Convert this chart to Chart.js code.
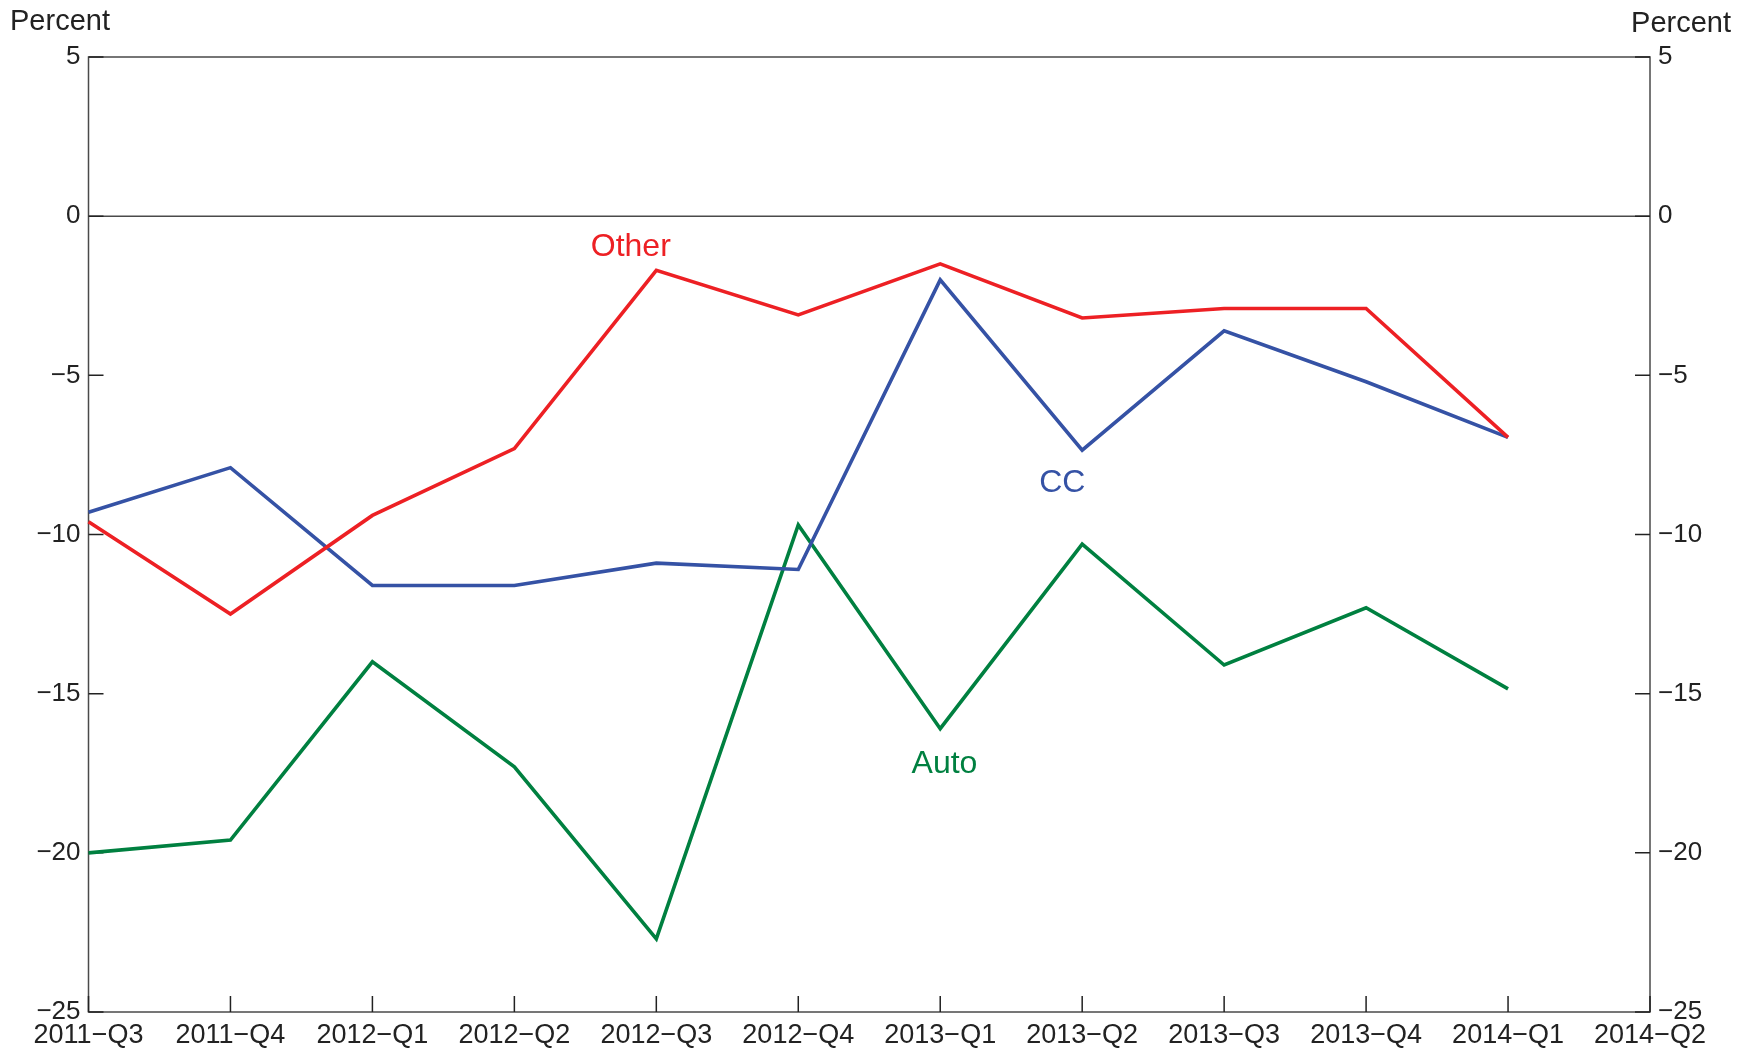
<!DOCTYPE html>
<html>
<head>
<meta charset="utf-8">
<script src="https://cdn.jsdelivr.net/npm/chart.js@4.4.1/dist/chart.umd.min.js"></script>
<style>
  html, body { margin: 0; padding: 0; background: #fff; }
  #wrap { width: 1752px; height: 1052px; }
</style>
</head>
<body>
<div id="wrap"><canvas id="chart" width="1752" height="1052"></canvas></div>
<script>
const quarters = ["2011\u2212Q3", "2011\u2212Q4", "2012\u2212Q1", "2012\u2212Q2", "2012\u2212Q3", "2012\u2212Q4",
    "2013\u2212Q1", "2013\u2212Q2", "2013\u2212Q3", "2013\u2212Q4", "2014\u2212Q1", "2014\u2212Q2"];
const otherVals = [-9.6, -12.5, -9.4, -7.3, -1.7, -3.1, -1.5, -3.2, -2.9, -2.9, -6.95];
const ccVals = [-9.3, -7.9, -11.6, -11.6, -10.9, -11.1, -2.0, -7.35, -3.6, -5.2, -6.95];
const autoVals = [-20.0, -19.6, -14.0, -17.3, -22.7, -9.7, -16.1, -10.3, -14.1, -12.3, -14.85];
const yTickVals = [5, 0, -5, -10, -15, -20, -25];

const RED = "#ed2024";
const BLUE = "#3552a5";
const GREEN = "#008040";
const AXIS = "#4a4a4a";
const FONT = "'Liberation Sans', Arial, sans-serif";

// series labels placed in data space
const seriesLabels = [
    { text: "Other", x: 3.82, y: -0.96, color: RED },
    { text: "CC", x: 6.86, y: -8.39, color: BLUE },
    { text: "Auto", x: 6.03, y: -17.2, color: GREEN }
];

const fmt = v => String(v).replace("-", "\u2212");

const framePlugin = {
    id: "frame",
    beforeDatasetsDraw(chart) {
        const ctx = chart.ctx;
        const { left, right, top, bottom } = chart.chartArea;
        const y = chart.scales.y;
        const x = chart.scales.x;
        ctx.save();
        ctx.strokeStyle = AXIS;
        ctx.lineWidth = 1.5;
        ctx.strokeRect(left, top, right - left, bottom - top);

        // zero line
        ctx.beginPath();
        ctx.moveTo(left, y.getPixelForValue(0));
        ctx.lineTo(right, y.getPixelForValue(0));
        ctx.stroke();

        // inward ticks
        ctx.strokeStyle = "#222";
        ctx.lineWidth = 1.5;
        ctx.beginPath();
        yTickVals.forEach(v => {
            const py = y.getPixelForValue(v);
            ctx.moveTo(left, py); ctx.lineTo(left + 15, py);
            ctx.moveTo(right, py); ctx.lineTo(right - 15, py);
        });
        quarters.forEach((q, i) => {
            const px = x.getPixelForTick(i);
            ctx.moveTo(px, bottom); ctx.lineTo(px, bottom - 16);
        });
        ctx.stroke();
        ctx.restore();
    },
    afterDraw(chart) {
        const ctx = chart.ctx;
        const x = chart.scales.x;
        const y = chart.scales.y;
        ctx.save();
        ctx.textBaseline = "middle";
        ctx.font = "29px " + FONT;
        ctx.fillStyle = "#222";
        ctx.textAlign = "left";
        ctx.fillText("Percent", 10, 22);
        ctx.textAlign = "right";
        ctx.fillText("Percent", 1731, 24);

        ctx.font = "32px " + FONT;
        ctx.textAlign = "center";
        seriesLabels.forEach(l => {
            ctx.fillStyle = l.color;
            ctx.fillText(l.text, x.getPixelForValue(l.x), y.getPixelForValue(l.y));
        });
        ctx.restore();
    }
};

const makeSet = (label, data, color) => ({
    label: label,
    data: data,
    borderColor: color,
    backgroundColor: color,
    borderWidth: 3.6,
    pointRadius: 0,
    tension: 0,
    fill: false
});

const yTicksCommon = {
    color: "#222",
    font: { family: FONT, size: 26 },
    padding: 8,
    callback: v => fmt(v)
};

new Chart(document.getElementById("chart").getContext("2d"), {
    type: "line",
    data: {
        labels: quarters,
        datasets: [
            makeSet("Other", otherVals, RED),
            makeSet("CC", ccVals, BLUE),
            makeSet("Auto", autoVals, GREEN)
        ]
    },
    options: {
        responsive: false,
        animation: false,
        layout: { padding: { top: 57, left: 0, right: 0, bottom: 0 } },
        plugins: {
            legend: { display: false },
            tooltip: { enabled: false }
        },
        scales: {
            x: {
                offset: false,
                grid: { display: false, drawTicks: false },
                border: { display: false },
                ticks: {
                    color: "#222",
                    font: { family: FONT, size: 27 },
                    padding: 7,
                    maxRotation: 0,
                    autoSkip: false
                },
                afterFit: s => { s.height = 40; }
            },
            y: {
                position: "left",
                min: -25,
                max: 5,
                afterBuildTicks: s => { s.ticks = yTickVals.map(v => ({ value: v })); },
                grid: { display: false, drawTicks: false },
                border: { display: false },
                ticks: yTicksCommon,
                afterFit: s => { s.width = 88.5; }
            },
            y2: {
                position: "right",
                min: -25,
                max: 5,
                afterBuildTicks: s => { s.ticks = yTickVals.map(v => ({ value: v })); },
                grid: { display: false, drawTicks: false },
                border: { display: false },
                ticks: yTicksCommon,
                afterFit: s => { s.width = 102; }
            }
        }
    },
    plugins: [framePlugin]
});
</script>
</body>
</html>
